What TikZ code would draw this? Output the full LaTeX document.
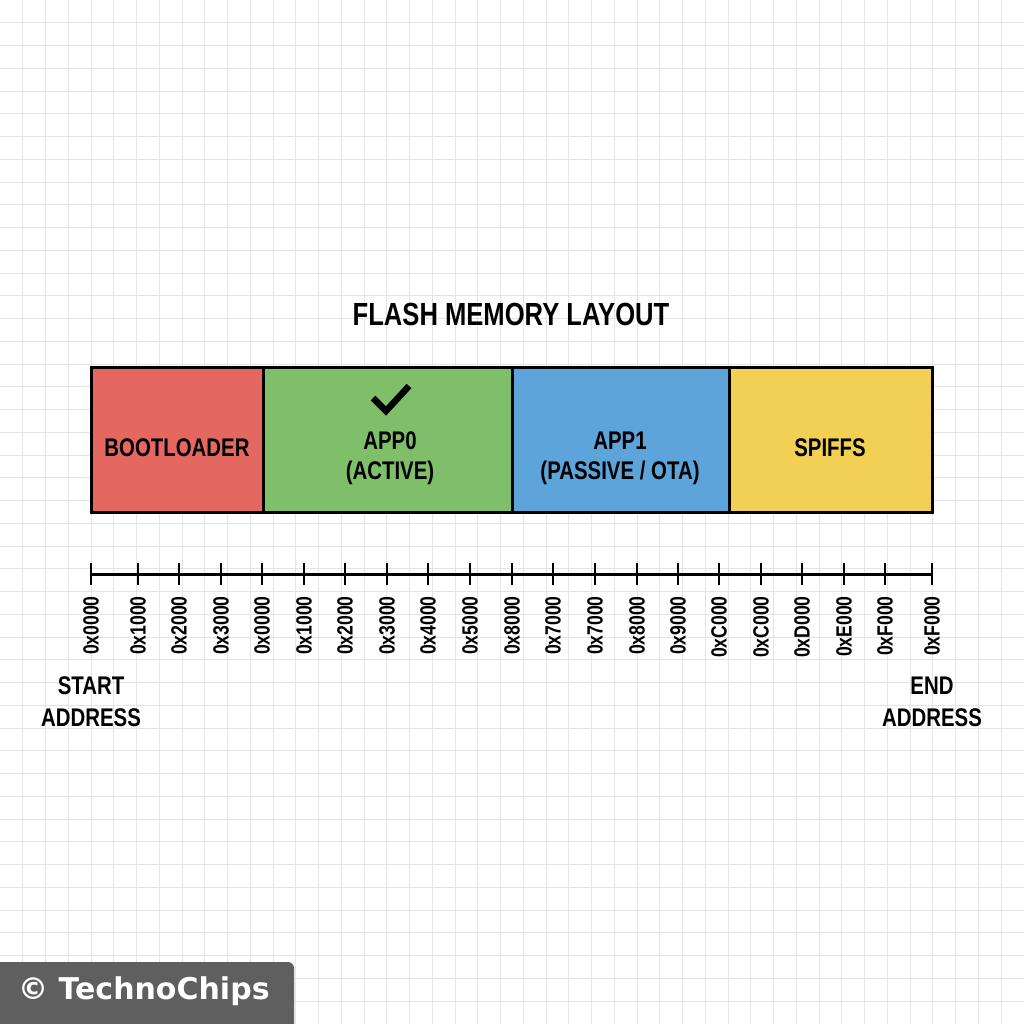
\documentclass[tikz,border=0pt]{standalone}
\usepackage{fontspec}
\newfontfamily\condfont[FakeStretch=0.8]{Liberation Sans}
\newfontfamily\wmfont{DejaVu Sans}
\definecolor{gridgray}{RGB}{228,228,228}
\definecolor{segred}{RGB}{229,104,96}
\definecolor{seggreen}{RGB}{127,191,106}
\definecolor{segblue}{RGB}{92,164,218}
\definecolor{segyellow}{RGB}{242,208,84}
\definecolor{wmgray}{RGB}{95,95,95}
\begin{document}
\begin{tikzpicture}[x=1pt,y=-1pt,
  seg/.style={draw=black,line width=3pt,minimum height=145pt,inner sep=0pt},
  seglbl/.style={align=center,inner sep=0pt,font=\condfont\bfseries\fontsize{25.5}{30}\selectfont},
  ticklbl/.style={rotate=90,anchor=east,inner sep=0pt,
    font=\condfont\bfseries\fontsize{22}{24}\selectfont},
  endlbl/.style={align=center,font=\condfont\bfseries\fontsize{25.5}{32}\selectfont},
  axis/.style={line width=3pt},
  tickmark/.style={line width=2.6pt}]
\useasboundingbox (0,0) rectangle (1024,1024);
\fill[white] (0,0) rectangle (1024,1024);
\foreach \i in {1,...,44}{
  \draw[gridgray,line width=1pt] ({\i*22.7556},0) -- ({\i*22.7556},1024);
  \draw[gridgray,line width=1pt] (0,{\i*22.7556}) -- (1024,{\i*22.7556});
}
% title
\node[font=\condfont\bfseries\fontsize{32}{36}\selectfont] (title) at (511,314) {FLASH MEMORY LAYOUT};
% segments
\node[seg,fill=segred,minimum width=172pt] (boot) at (177,439.5) {};
\node[seg,fill=seggreen,minimum width=249pt] (app0) at (387.5,439.5) {};
\node[seg,fill=segblue,minimum width=217pt] (app1) at (620.5,439.5) {};
\node[seg,fill=segyellow,minimum width=203pt] (spiffs) at (830.5,439.5) {};
\node[seglbl] (bootlbl) at (177,448) {BOOTLOADER};
\node[seglbl] (app0lbl) at (390,458) {APP0\\(ACTIVE)};
\node[seglbl] (app1lbl) at (620,458) {APP1\\(PASSIVE / OTA)};
\node[seglbl] (spiffslbl) at (830,448) {SPIFFS};
\coordinate (c1) at (373,398);
\coordinate (c2) at (386,411);
\coordinate (c3) at (409,386);
\draw[line width=6.5pt] (c1) -- (c2) -- (c3);
% axis
\coordinate (axL) at (91,574);
\coordinate (axR) at (932,574);
\draw[axis] (axL) -- (axR);
\foreach \x/\t [count=\k] in {91/0x0000,138/0x1000,179/0x2000,221/0x3000,262/0x0000,304/0x1000,345/0x2000,387/0x3000,428/0x4000,470/0x5000,512/0x8000,553/0x7000,595/0x7000,637/0x8000,678/0x9000,719/0xC000,761/0xC000,802/0xD000,844/0xE000,885/0xF000,932/0xF000}{
  \draw[tickmark] (\x,563) -- (\x,585);
  \node[ticklbl] (tl\k) at (\x,596) {\t};
}
\node[endlbl] (start) at (91,702) {START\\ADDRESS};
\node[endlbl] (end) at (932,702) {END\\ADDRESS};
% watermark
\fill[wmgray,rounded corners=6pt] (-10,962) rectangle (294,1040);
\node[anchor=west,text=white,font=\wmfont\bfseries\fontsize{30}{32}\selectfont,inner sep=0pt] (wm) at (18,991) {© TechnoChips};
\end{tikzpicture}
\end{document}
